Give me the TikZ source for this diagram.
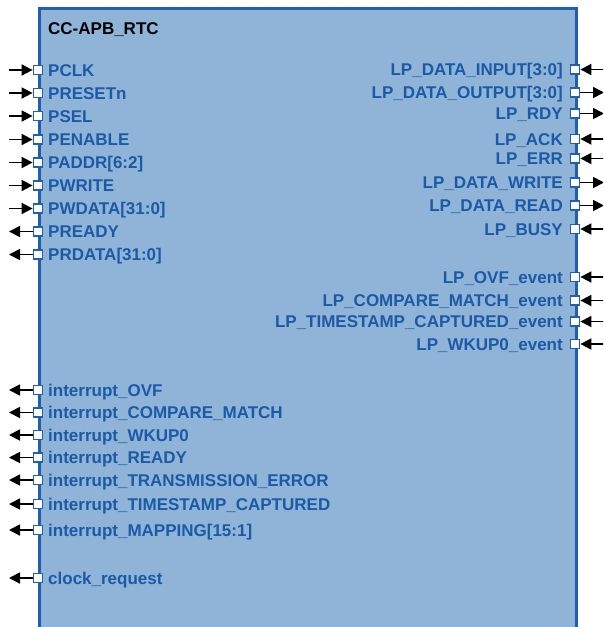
\documentclass[tikz,border=0pt]{standalone}
\usepackage{fontspec}
\setmainfont{Liberation Sans}
\usepackage{tikz}
\usetikzlibrary{arrows.meta}
\definecolor{rtcfill}{HTML}{8FB4D7}
\definecolor{rtcblue}{HTML}{1F5FAD}
\definecolor{rtctext}{HTML}{1A5AA6}

\tikzset{
  port/.style={draw=rtcblue,fill=white,line width=1.8pt,minimum size=9pt,inner sep=0pt},
  sig/.style={-{Triangle[length=11pt,width=11pt]},line width=1.8pt,black},
  lbl/.style={text=rtctext,inner sep=0pt}
}

\begin{document}
\begin{tikzpicture}[x=1pt,y=-1pt,font=\fontsize{17}{20}\selectfont\bfseries]
  \clip (0,0) rectangle (603,627);
  \node[draw=rtcblue,line width=2.8pt,fill=rtcfill,anchor=north west,minimum width=537pt,minimum height=660pt,inner sep=0pt] (rtc) at (38,7) {};
  \node[anchor=base west,inner sep=0pt] (title) at (48,34) {CC-APB\_RTC};
  % APB inputs
  \foreach \y/\t [count=\i] in {70/PCLK, 93/PRESETn, 116/PSEL, 139.5/PENABLE, 162.5/{PADDR[6:2]}, 185.5/PWRITE, 208.5/{PWDATA[31:0]}}{
    \node[port] (li\i) at (38,\y) {};
    \node[lbl,anchor=base west] at (48,\y+6) {\t};
    \coordinate (lie\i) at (9,\y);
    \draw[sig] (lie\i) -- (li\i);
  }
  % APB outputs, interrupts
  \foreach \y/\t [count=\i] in {231.5/PREADY, 254.5/{PRDATA[31:0]}, 390/interrupt\_OVF, 412.5/interrupt\_COMPARE\_MATCH, 435/interrupt\_WKUP0, 457.5/interrupt\_READY, 480/interrupt\_TRANSMISSION\_ERROR, 504/interrupt\_TIMESTAMP\_CAPTURED, 530/{interrupt\_MAPPING[15:1]}, 578/clock\_request}{
    \node[port] (lo\i) at (38,\y) {};
    \node[lbl,anchor=base west] at (48,\y+6) {\t};
    \coordinate (loe\i) at (9,\y);
    \draw[sig] (lo\i) -- (loe\i);
  }
  % LP inputs
  \foreach \y/\t [count=\i] in {69.5/{LP\_DATA\_INPUT[3:0]}, 139/LP\_ACK, 158.5/LP\_ERR, 229/LP\_BUSY, 277/LP\_OVF\_event, 300.5/LP\_COMPARE\_MATCH\_event, 321.5/LP\_TIMESTAMP\_CAPTURED\_event, 344/LP\_WKUP0\_event}{
    \node[port] (ri\i) at (575,\y) {};
    \node[lbl,anchor=base east] at (563,\y+6) {\t};
    \coordinate (rie\i) at (604,\y);
    \draw[sig] (rie\i) -- (ri\i);
  }
  % LP outputs
  \foreach \y/\t [count=\i] in {92.5/{LP\_DATA\_OUTPUT[3:0]}, 113.5/LP\_RDY, 182.5/LP\_DATA\_WRITE, 205.5/LP\_DATA\_READ}{
    \node[port] (ro\i) at (575,\y) {};
    \node[lbl,anchor=base east] at (563,\y+6) {\t};
    \coordinate (roe\i) at (604,\y);
    \draw[sig] (ro\i) -- (roe\i);
  }
\end{tikzpicture}
\end{document}
